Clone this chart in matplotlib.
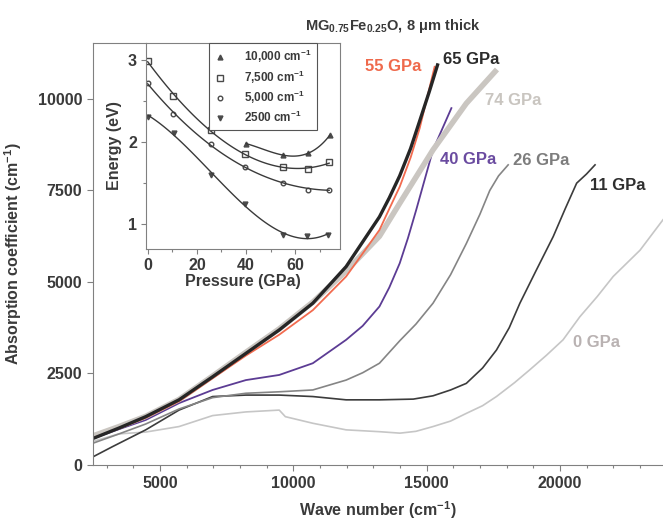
import numpy as np
import matplotlib
matplotlib.use("Agg")
import matplotlib.pyplot as plt
from matplotlib.lines import Line2D
from matplotlib.ticker import MultipleLocator

plt.rcParams['font.family'] = ['Liberation Sans', 'DejaVu Sans']
plt.rcParams['font.weight'] = 'bold'
plt.rcParams['mathtext.fontset'] = 'custom'
plt.rcParams['mathtext.rm'] = 'Liberation Sans:bold'
plt.rcParams['mathtext.default'] = 'rm'

# main spectra: wave number (cm-1) vs absorption coefficient (cm-1)
wn_65 = [2500, 3460, 4460, 5710, 6970, 8220, 9470, 10730, 11980, 13230, 13600, 13990, 14400, 14740, 15100, 15410]
ab_65 = [730, 1010, 1320, 1780, 2410, 3050, 3690, 4420, 5420, 6780, 7300, 7900, 8650, 9400, 10200, 10930]

wn_55 = [2500, 3460, 4460, 5710, 6970, 8220, 9470, 10730, 11980, 13230, 13600, 13990, 14400, 14740, 15300]
ab_55 = [740, 1000, 1290, 1740, 2370, 2990, 3560, 4230, 5150, 6420, 7000, 7600, 8400, 9200, 10880]

wn_74 = [2500, 3460, 4460, 5710, 6970, 8220, 9470, 10730, 11980, 13230, 13990, 15240, 16490, 17570]
ab_74 = [800, 1050, 1330, 1790, 2430, 3080, 3720, 4450, 5300, 6250, 7150, 8610, 9880, 10750]

wn_40 = [2500, 3460, 4460, 5710, 6970, 8220, 9470, 10730, 11980, 12600, 13230, 13600, 13990, 14300, 14610, 15240, 15930]
ab_40 = [730, 980, 1230, 1690, 2050, 2320, 2460, 2780, 3420, 3800, 4330, 4850, 5510, 6200, 6970, 8610, 9750]

wn_26 = [2500, 3460, 4460, 5710, 6970, 8220, 9470, 10730, 11980, 12600, 13230, 14000, 14600, 15240,
         15900, 16490, 17000, 17370, 17700, 18060]
ab_26 = [600, 850, 1120, 1530, 1840, 1960, 2000, 2050, 2320, 2520, 2780, 3400, 3850, 4420,
         5200, 6050, 6850, 7500, 7900, 8200]

wn_11 = [2500, 3210, 4460, 5710, 6970, 8220, 9470, 10730, 11980, 13230, 14500, 15240, 15900, 16490,
         17100, 17620, 18100, 18500, 19100, 19750, 20200, 20630, 21000, 21320]
ab_11 = [230, 500, 960, 1500, 1870, 1910, 1910, 1870, 1780, 1780, 1800, 1890, 2050, 2230,
         2650, 3140, 3750, 4420, 5300, 6240, 7000, 7700, 7950, 8200]

wn_0 = [2500, 3460, 4460, 5710, 6970, 8220, 9470, 9700, 10730, 11980, 13230, 14000, 14600, 15240,
        15900, 16490, 17100, 17620, 18300, 18870, 19500, 20120, 20750, 21400, 22000, 23010, 23870]
ab_0 = [650, 850, 900, 1050, 1350, 1450, 1500, 1320, 1140, 960, 910, 870, 920, 1050,
        1200, 1410, 1620, 1870, 2250, 2600, 3000, 3420, 4050, 4600, 5150, 5870, 6700]

# inset: pressure (GPa) vs energy (eV)
p_10000 = [40, 55, 65, 74]
e_10000 = [1.98, 1.84, 1.86, 2.08]
p_7500 = [0, 10.4, 25.7, 39.6, 54.9, 65, 73.8]
e_7500 = [2.99, 2.56, 2.15, 1.85, 1.69, 1.67, 1.75]
p_5000 = [0, 10.4, 25.7, 39.6, 54.9, 65, 73.8]
e_5000 = [2.72, 2.34, 1.97, 1.70, 1.50, 1.42, 1.42]
p_2500 = [0.3, 10.8, 25.7, 39.6, 54.9, 64.9, 73.4]
e_2500 = [2.31, 2.11, 1.60, 1.24, 0.87, 0.85, 0.87]

fig = plt.figure(figsize=(6.63, 5.21), dpi=100)
ax = fig.add_axes([0.141, 0.1075, 0.859, 0.81])

grey = '#3a3a3a'
ax.plot(wn_0, ab_0, color='#c6c6c6', lw=1.2)
ax.plot(wn_11, ab_11, color='#3c3c3c', lw=1.2)
ax.plot(wn_26, ab_26, color='#858585', lw=1.2)
ax.plot(wn_40, ab_40, color='#5c3c94', lw=1.3)
ax.plot(wn_74, ab_74, color='#cac6c1', lw=4)
ax.plot(wn_55, ab_55, color='#f26b4f', lw=1.3)
ax.plot(wn_65, ab_65, color='#262626', lw=2.4)

labels = [
    (12670, 10874, '55 GPa', '#ef6a4c'),
    (15600, 11066, '65 GPa', '#2b2b2b'),
    (17180, 9945, '74 GPa', '#c9c5c0'),
    (15490, 8333, '40 GPa', '#6a4ba0'),
    (18230, 8306, '26 GPa', '#7d7d7d'),
    (21130, 7623, '11 GPa', '#2f2f2f'),
    (20490, 3347, '0 GPa', '#b9b2b2'),
]
for x, y, t, c in labels:
    ax.text(x, y, t, color=c, fontsize=12, fontweight='bold', va='center', ha='left')

ax.set_xlim(2500, 23870)
ax.set_ylim(0, 11530)
ax.set_xticks([5000, 10000, 15000, 20000])
ax.xaxis.set_minor_locator(MultipleLocator(1000))
ax.set_yticks([0, 2500, 5000, 7500, 10000])
for s in ['top', 'right']:
    ax.spines[s].set_visible(False)
for s in ['left', 'bottom']:
    ax.spines[s].set_color('#808080')
ax.tick_params(which='major', length=4, width=0.8, color='#808080', labelsize=11.5, labelcolor=grey, pad=4)
ax.tick_params(which='minor', length=2.5, width=0.8, color='#808080')
ax.set_xlabel('Wave number (cm$^{-1}$)', fontsize=11.5, color=grey, fontweight='bold', labelpad=6)
ax.set_ylabel('Absorption coefficient (cm$^{-1}$)', fontsize=11.5, color=grey, fontweight='bold', labelpad=10)

fig.text(0.593, 0.95, 'MG$_{0.75}$Fe$_{0.25}$O, 8 \u03bcm thick', ha='center', va='center',
         fontsize=10.5, color=grey, fontweight='bold')

# inset
ins = fig.add_axes([0.2202, 0.5221, 0.2926, 0.3954])
ins.patch.set_facecolor('white')
ins.plot(p_10000, e_10000, ls='none', marker='^', ms=3.5, mfc='#4a4a4a', mec='#4a4a4a')
ins.plot(p_7500, e_7500, ls='none', marker='s', ms=3.8, mfc='white', mec='#4a4a4a')
ins.plot(p_5000, e_5000, ls='none', marker='o', ms=3.3, mfc='white', mec='#4a4a4a')
ins.plot(p_2500, e_2500, ls='none', marker='v', ms=3.5, mfc='#4a4a4a', mec='#4a4a4a')
for p, e in [(p_10000, e_10000), (p_7500, e_7500), (p_5000, e_5000), (p_2500, e_2500)]:
    c = np.polyfit(p, e, 3)
    pp = np.linspace(min(p), max(p), 100)
    ins.plot(pp, np.polyval(c, pp), color=grey, lw=1)

ins.set_xlim(-0.7, 78.2)
ins.set_ylim(0.695, 3.207)
ins.set_xticks([0, 20, 40, 60])
ins.xaxis.set_minor_locator(MultipleLocator(10))
ins.set_yticks([1, 2, 3])
ins.yaxis.set_minor_locator(MultipleLocator(0.5))
for s in ins.spines.values():
    s.set_color('#808080')
ins.tick_params(which='major', length=3.5, width=0.8, color='#808080', labelsize=11.5, labelcolor=grey, pad=3)
ins.tick_params(which='minor', length=2.5, width=0.8, color='#808080')
ins.set_xlabel('Pressure (GPa)', fontsize=11.5, color=grey, fontweight='bold', labelpad=1)
ins.set_ylabel('Energy (eV)', fontsize=11.5, color=grey, fontweight='bold', labelpad=4)

handles = [
    Line2D([], [], ls='none', marker='^', ms=3.5, mfc='#4a4a4a', mec='#4a4a4a'),
    Line2D([], [], ls='none', marker='s', ms=3.8, mfc='white', mec='#4a4a4a'),
    Line2D([], [], ls='none', marker='o', ms=3.3, mfc='white', mec='#4a4a4a'),
    Line2D([], [], ls='none', marker='v', ms=3.5, mfc='#4a4a4a', mec='#4a4a4a'),
]
leg = ins.legend(handles, ['10,000 cm$^{-1}$', '7,500 cm$^{-1}$', '5,000 cm$^{-1}$', '2500 cm$^{-1}$'],
                 loc='upper left', bbox_to_anchor=(0.325, 1.0), borderaxespad=0, fontsize=8.5,
                 fancybox=False, framealpha=1, edgecolor='#555555', handletextpad=1.6,
                 labelspacing=0.3, borderpad=0.4, handlelength=1.0)
leg.get_frame().set_linewidth(0.8)
for t in leg.get_texts():
    t.set_color(grey)

# top border of inset box reaches the main y axis
fig.add_artist(Line2D([0.141, 0.2202], [0.918, 0.918], color='#808080', lw=0.8))

fig.savefig('out.png', dpi=100)
